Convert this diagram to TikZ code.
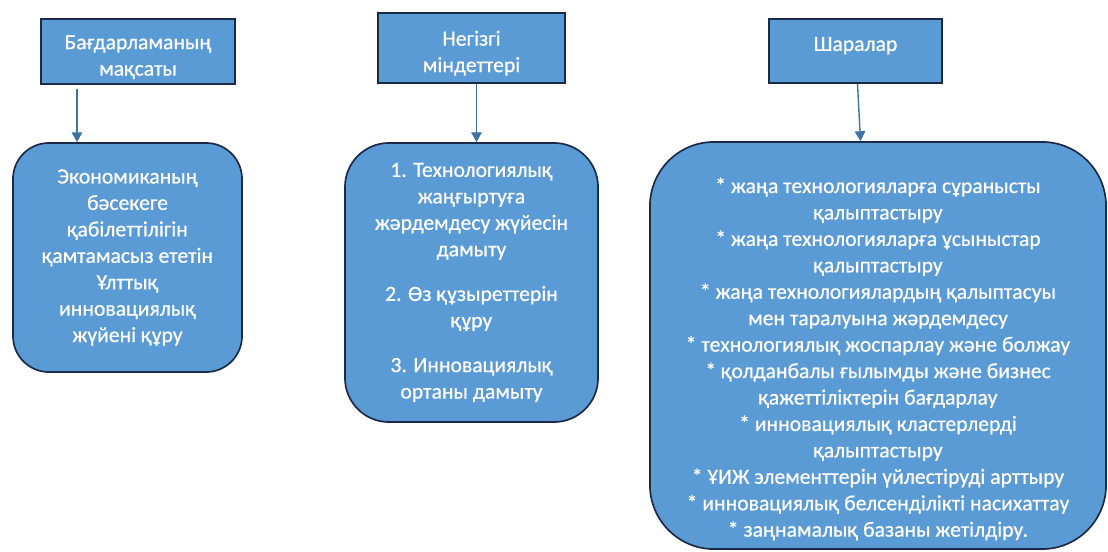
\documentclass[tikz,border=0pt]{standalone}
\usepackage{fontspec}
\setmainfont[FakeBold=0.6]{Carlito}
\newfontface\boxfont[FakeBold=0.6]{Carlito}
\usetikzlibrary{arrows.meta,calc}

\definecolor{boxblue}{HTML}{5B9BD5}
\definecolor{boxedge}{HTML}{1B2A47}
\definecolor{arrowblue}{HTML}{3E71A6}

\begin{document}
\begin{tikzpicture}[x=0.025cm, y=-0.025cm,
    head/.style={rectangle, draw=boxedge, fill=boxblue, line width=1.4pt,
                 align=center, text=white, font=\boxfont\fontsize{15.4}{18.8}\selectfont},
    goal/.style={rectangle, draw=boxedge, fill=boxblue, line width=1.2pt,
                 align=center, text=white, font=\boxfont\fontsize{15.4}{18.8}\selectfont},
    line/.style={-{Triangle[length=7pt, width=7.5pt]}, draw=arrowblue, line width=1pt},
  ]

  \useasboundingbox (0,0) rectangle (1108,551);

  % top row
  \node[head, minimum width=4.85cm, minimum height=1.575cm] (aim) at (138,51.5)
    {\rule{0pt}{18pt}Бағдарламаның\\мақсаты};
  \node[head, minimum width=4.675cm, minimum height=1.75cm] (tasks) at (471.5,48)
    {\rule{0pt}{18pt}Негізгі\\міндеттері};
  \node[head, minimum width=4.325cm, minimum height=1.6cm, text depth=10pt] (acts) at (855.5,51)
    {Шаралар};

  % lower row
  \node[goal, rounded corners=0.9cm, minimum width=5.725cm, minimum height=5.725cm] (target) at (127.5,257.5)
    {Экономиканың\\бәсекеге\\қабілеттілігін\\қамтамасыз ететін\\Ұлттық\\инновациялық\\жүйені құру};
  \node[goal, rounded corners=1.1cm, minimum width=6.325cm, minimum height=6.975cm] (duties) at (471.5,282.5)
    {1. Технологиялық\\жаңғыртуға\\жәрдемдесу жүйесін\\дамыту\\[13pt]
     2. Өз құзыреттерін\\құру\\[13pt]
     3. Инновациялық\\ортаны дамыту};
  \node[goal, rounded corners=1.6cm, minimum width=11.4cm, minimum height=10.175cm] (measures) at (878,345.5)
    {\rule{0pt}{30pt}* жаңа технологияларға сұранысты\\қалыптастыру\\
     * жаңа технологияларға ұсыныстар\\қалыптастыру\\
     * жаңа технологиялардың қалыптасуы\\мен таралуына жәрдемдесу\\
     * технологиялық жоспарлау және болжау\\
     * қолданбалы ғылымды және бизнес\\қажеттіліктерін бағдарлау\\
     * инновациялық кластерлерді\\қалыптастыру\\
     * ҰИЖ элементтерін үйлестіруді арттыру\\
     * инновациялық белсенділікті насихаттау\\
     * заңнамалық базаны жетілдіру.};

  % arrows down
  \coordinate (s1) at ($(aim.south west)+(37,4)$);
  \coordinate (s2) at ($(tasks.south)+(5,0)$);
  \coordinate (s3) at ($(acts.south)+(2,0)$);
  \coordinate (e3) at ($(acts.south)+(5,0)$);
  \draw[line] (s1) -- (s1 |- target.north);
  \draw[line] (s2) -- (s2 |- duties.north);
  \draw[line] (s3) -- (e3 |- measures.north);

\end{tikzpicture}
\end{document}
